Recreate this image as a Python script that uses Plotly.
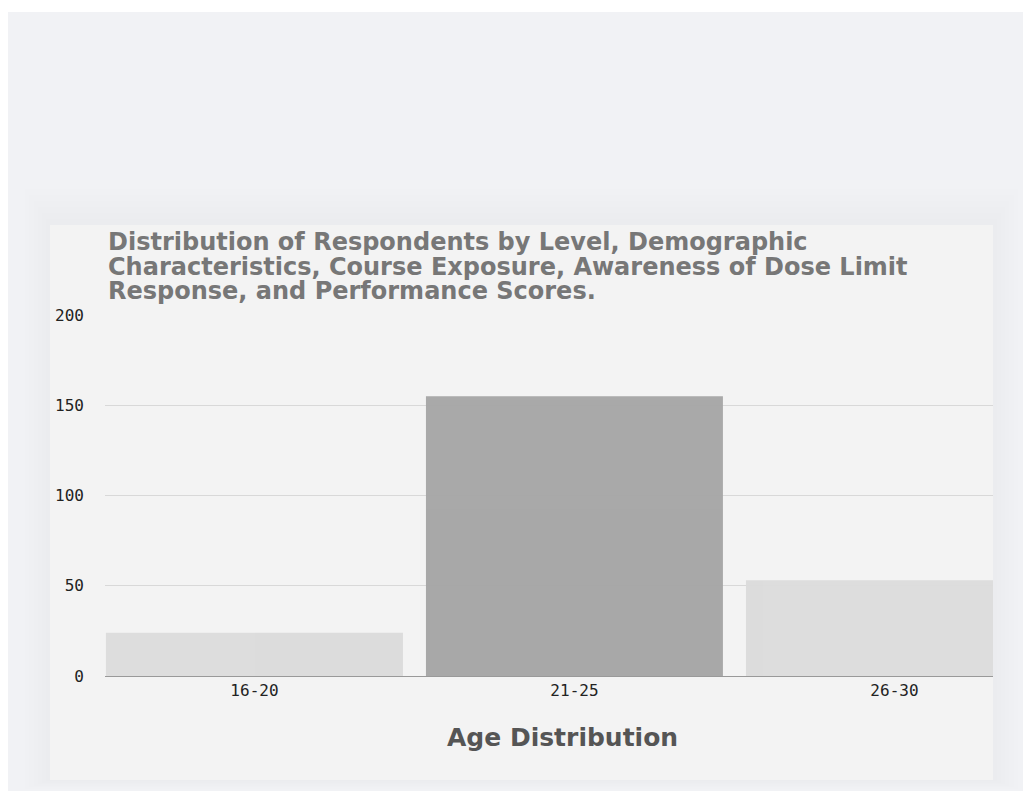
import plotly.graph_objects as go

# Age groups and respondent counts
age_groups = ["16-20", "21-25", "26-30"]
respondents = [24, 155, 53]
bar_colors = ["#dcdcdc", "#a6a6a6", "#dcdcdc"]

y_ticks = [0, 50, 100, 150, 200]
title_lines = [
    "Distribution of Respondents by Level, Demographic",
    "Characteristics, Course Exposure, Awareness of Dose Limit",
    "Response, and Performance Scores.",
]
x_title = "Age Distribution"

W, H = 1023, 791
ML, MR, MT, MB = 105, 30, 315, 115
PW = W - ML - MR
PH = H - MT - MB


def px_x(px):
    return (px - ML) / PW


def px_y(py):
    return (H - MB - py) / PH


fig = go.Figure()
fig.add_trace(
    go.Bar(
        x=age_groups,
        y=respondents,
        marker=dict(color=bar_colors, line=dict(width=0)),
        opacity=0.97,
        hoverinfo="x+y",
    )
)

shapes = []
# page panel
shapes.append(dict(type="rect", xref="paper", yref="paper", layer="below",
                   x0=px_x(8), x1=px_x(1030), y0=px_y(12), y1=px_y(800),
                   fillcolor="#f1f2f5", line=dict(width=0)))
# soft card shadow, strongest above the card
for i in range(6):
    g = 36 - i * 6
    shapes.append(dict(type="rect", xref="paper", yref="paper", layer="below",
                       x0=px_x(50 - g * 0.7), x1=px_x(993 + g * 0.7),
                       y0=px_y(225 - g), y1=px_y(780 + g * 0.25),
                       fillcolor="rgba(60,70,100,0.005)", line=dict(width=0)))
# card
shapes.append(dict(type="rect", xref="paper", yref="paper", layer="below",
                   x0=px_x(50), x1=px_x(993), y0=px_y(225), y1=px_y(780),
                   fillcolor="#f3f3f3", line=dict(width=0)))

annotations = []
for i, line in enumerate(title_lines):
    annotations.append(dict(
        text=f"<b>{line}</b>", xref="paper", yref="paper", x=px_x(106), y=px_y(242 + i * 24.5),
        xanchor="left", yanchor="middle", showarrow=False,
        font=dict(family="DejaVu Sans, sans-serif", size=24, color="#777777"),
    ))
annotations.append(dict(
    text=f"<b>{x_title}</b>", xref="paper", yref="paper", x=px_x(562), y=px_y(737),
    xanchor="center", yanchor="middle", showarrow=False,
    font=dict(family="DejaVu Sans, sans-serif", size=25, color="#555555"),
))

fig.update_layout(
    width=W, height=H,
    margin=dict(l=ML, r=MR, t=MT, b=MB),
    paper_bgcolor="#ffffff",
    plot_bgcolor="rgba(0,0,0,0)",
    showlegend=False,
    bargap=0.072,
    shapes=shapes,
    annotations=annotations,
    xaxis=dict(
        range=[-0.467, 2.308],
        showgrid=False,
        showline=True, linecolor="#999999", linewidth=1,
        ticks="", tickfont=dict(family="DejaVu Sans Mono, monospace", size=16, color="#222222"),
        fixedrange=True,
    ),
    yaxis=dict(
        range=[0, 200],
        tickvals=y_ticks,
        showgrid=True, gridcolor="#d8d8d8", gridwidth=1,
        zeroline=False, showline=False,
        ticks="", ticklabelstandoff=20,
        tickfont=dict(family="DejaVu Sans Mono, monospace", size=16, color="#222222"),
        fixedrange=True,
    ),
)

fig.write_html("out.html", config={"displayModeBar": False})
